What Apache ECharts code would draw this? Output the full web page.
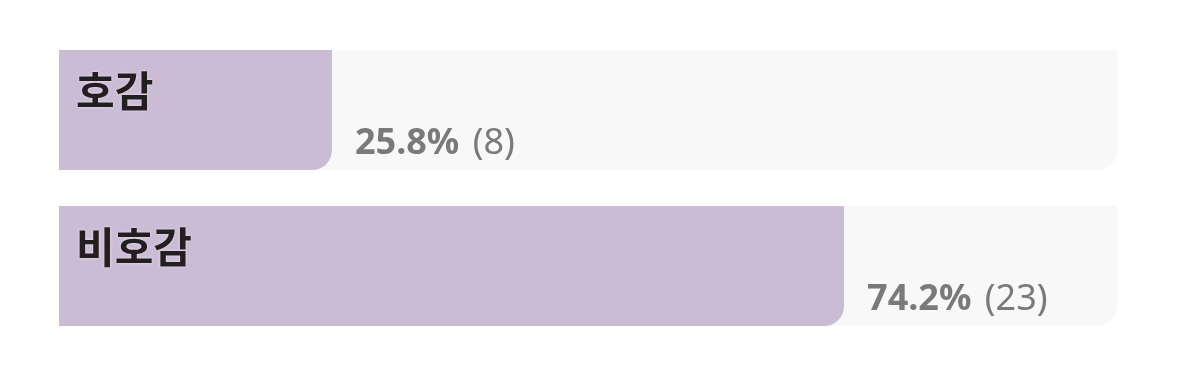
<!DOCTYPE html>
<html><head><meta charset="utf-8">
<script src="https://cdn.jsdelivr.net/npm/echarts@6/dist/echarts.min.js"></script>
<style>html,body{margin:0;padding:0;background:#fff}#c{width:1178px;height:384px}</style>
</head><body><div id="c"></div>
<script>
const categories = ['호감', '비호감'];
const percents = [25.8, 74.2];
const counts = [8, 23];

const chart = echarts.init(document.getElementById('c'), null, {renderer: 'canvas'});
chart.setOption({
  animation: false,
  backgroundColor: '#ffffff',
  grid: {left: 59, right: 61, top: 32, bottom: 40, containLabel: false},
  xAxis: {type: 'value', min: 0, max: 100, show: false},
  yAxis: {type: 'category', data: categories, inverse: true, show: false},
  series: [
    {
      type: 'bar',
      data: percents,
      barWidth: 120,
      showBackground: true,
      backgroundStyle: {color: '#f8f8f8', borderRadius: [0, 0, 20, 0]},
      itemStyle: {color: '#cbbcd6', borderRadius: [0, 0, 20, 0]},
      label: {
        show: true,
        position: [17, 20],
        formatter: p => p.name,
        fontFamily: 'Noto Sans CJK KR',
        fontWeight: 'bold',
        fontSize: 42,
        color: '#231f20',
        textShadowColor: 'rgba(255,255,255,0.6)',
        textShadowBlur: 3
      },
      z: 2
    },
    {
      type: 'bar',
      data: percents,
      barWidth: 120,
      barGap: '-100%',
      itemStyle: {color: 'rgba(0,0,0,0)'},
      silent: true,
      label: {
        show: true,
        position: ['100%', '100%'],
        offset: [23, -8],
        align: 'left',
        verticalAlign: 'bottom',
        fontFamily: 'Noto Sans',
        fontSize: 36,
        color: '#7a7a7a',
        formatter: p => '{b|' + p.value.toFixed(1) + '%} {n|(' + counts[p.dataIndex] + ')}',
        rich: {
          b: {fontFamily: 'Noto Sans', fontWeight: 'bold', fontSize: 36, color: '#7a7a7a'},
          n: {fontFamily: 'Noto Sans', fontWeight: 'normal', fontSize: 36, color: '#7a7a7a', padding: [0, 0, 0, 4]}
        }
      },
      z: 3
    }
  ]
});
</script></body></html>
